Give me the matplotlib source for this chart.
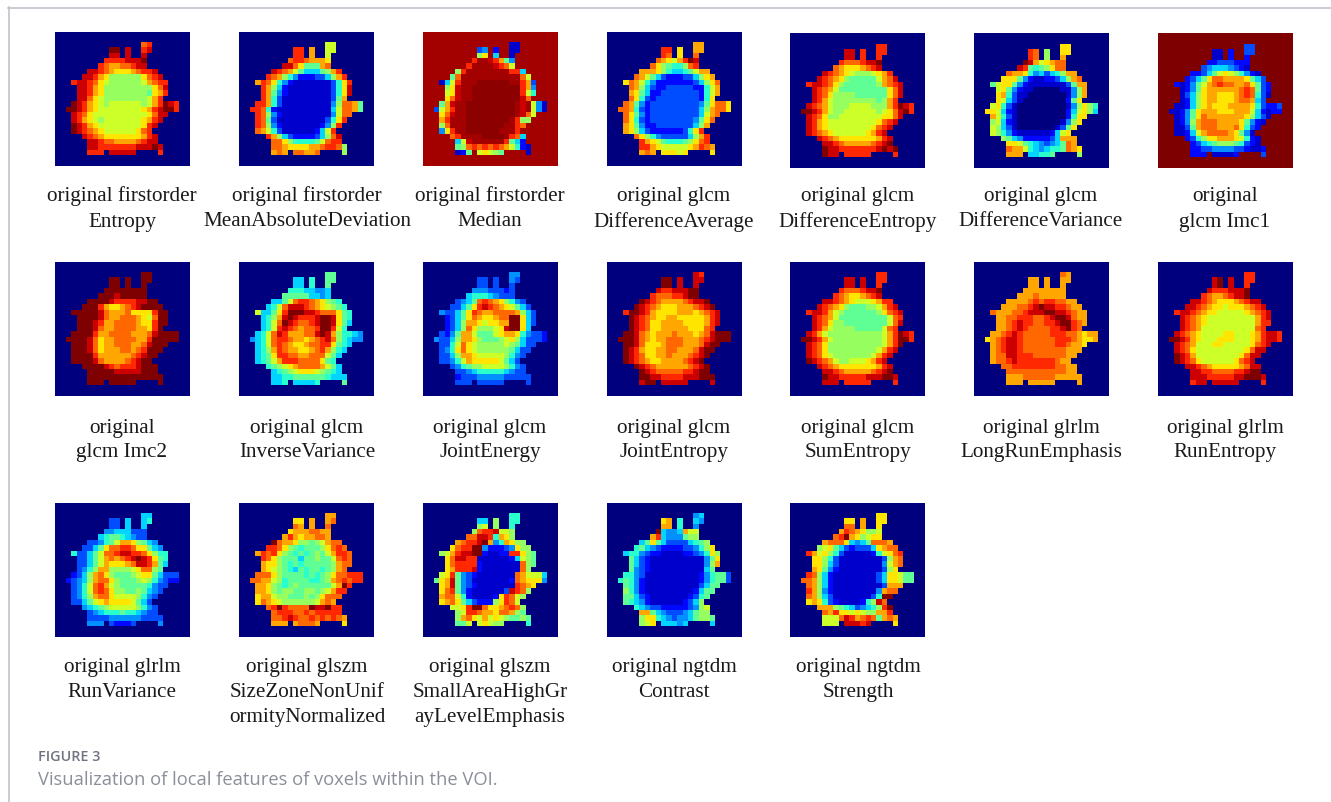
import numpy as np
import matplotlib
matplotlib.use("Agg")
import matplotlib.pyplot as plt
from matplotlib.lines import Line2D

W, H = 1331, 803

# Occupied cells of the 25x25 VOI grid (first row = 2, first column = 2)
OUTLINE = [
    "..............XX.....",
    "........XX.X..XX.....",
    "........XX.X..X......",
    ".......XXXXXXXX......",
    "......XXXXXXXXX......",
    "....XXXXXXXXXXXXX....",
    "...XXXXXXXXXXXXXXX...",
    ".XXXXXXXXXXXXXXXXXX..",
    "..XXXXXXXXXXXXXXXXX..",
    "..XXXXXXXXXXXXXXXXX..",
    "..XXXXXXXXXXXXXXXX...",
    ".XXXXXXXXXXXXXXXXXXXX",
    "XXXXXXXXXXXXXXXXXXXXX",
    ".XXXXXXXXXXXXXXXXXX..",
    ".XXXXXXXXXXXXXXXXX...",
    ".XXXXXXXXXXXXXXXX....",
    ".XXXXXXXXXXXXXXX.....",
    "...XXXXXXXXXXXXXX....",
    "....XXXXXXXXXXXXX....",
    "....XXXXXXXXXXXXXX...",
    "....XXX.XXXXX....X...",
]

# Per-panel values, one string per grid row (hex levels 0-f, g/h between e and f)
entropy = ["cd","ffede","eeee","ddddeeef","dcbbccdee","eedcbaaabcdde",
 "eedba" "88888" "8acde","deedca" "9" "888888" "9bcdd","eedba" "888888888" "ace","eedba" "888888887" "abd",
 "eeca9" "88888888" "9bd","fedba" "989999998" "9bdfed","ffedba9" "9999999" "abdeffd","edca9" "999999999" "acee",
 "edba9" "89999999" "abde","fedba" "99999999" "ade","fedcba" "999999" "acd","edcba" "aaaaa" "abde",
 "eedccbbbbcdee","eedddddddeeefe","dddeeeeed"]
mean_abs_dev = ["99","ddb99","ddb9","cddcbbba","eeca777bc","edcb9755578bd",
 "dcb8642223358bd","bdca64" "2" "111111" "136ad","db852" "11111111" "36ae","db742" "11111111" "36ae",
 "db631" "11111111" "37b","ddb63" "111111111" "48ccb7","ddc62" "1111111111" "59ccb7","dc842" "111111111" "49cc",
 "dc731" "11111111" "36ad","dc842" "1111111" "248d","cb963" "111111" "259d","db853" "22223" "58ce",
 "cca8666679cdd","ccbaaaabbcddc8","bcbccbbc8"]
median = ["11","34211","8a51","dggedb74","dggggedc9","8dggggggggdd5",
 "7cggg" "gggggg" "ggc9","159dgg" "g" "hhhhhh" "ggdb3","8aegg" "hhhhhhhhh" "db4","9aegg" "hhhhhhhhh" "d96",
 "acegg" "hhhhhhhhh" "ec","7begg" "hhhhhhhhh" "geg941","39bdgg" "hhhhhhhhh" "geg941","acegg" "hhhhhhhhh" "gec9",
 "bdggg" "hhhhhhhh" "gd88","8cggg" "hhhhhhh" "ggdc","4adgg" "hhhhhh" "gggd","cdggg" "ghhhh" "gdc5",
 "59eggggggd752","78cdcdcdcb9621","1279a9871"]
diff_average = ["bb","ddabb","dcac","cba9bdfe","ca87668cd","bbba8655679bb",
 "cb975" "322233" "58ab","acb964" "2" "222222" "358ac","cb853" "223333322" "69b","ba752" "233333332" "69b",
 "ca632" "33333333" "26a","cb742" "333333333" "47acca","ccb632" "333333333" "58bcca","ca742" "333333333" "59bc",
 "ca632" "33333333" "47ac","ba742" "2333333" "358b","ba853" "222222" "36ad","ca864" "33333" "58bd",
 "dba9766678acd","ddba99999abdcb","bcbaaa9aa"]
diff_entropy = ["dd","eeddd","eedd","dcccdeef","cbaaabcde","edcba98889abd",
 "edcba" "87777" "79bce","deedca" "8" "777777" "8bcde","edcb9" "777777777" "ace","edca8" "888777777" "ace",
 "edb98" "88888887" "8bd","edcb9" "888999988" "8bdfed","ffedb98" "89999998" "9acefd","edca8" "899999999" "aace",
 "edba9" "99999999" "acde","edba9" "9999999a" "cde","edcba" "999999" "abde","edcba" "aaaaa" "abde",
 "eedcbbbbbcdef","feedddddddefef","feedddddd"]
diff_variance = ["aa","dc8aa","dc8b","feb9abcc","ed7678acc","cbba6453568bb",
 "aaa74" "211223" "58bc","79aa74" "2" "111111" "137bb","9a742" "110000011" "48b","ab631" "100000001" "48b",
 "a9531" "00000000" "27a","9a631" "000000000" "148a86","aa9521" "000000000" "259a85","b9631" "000000000" "26aa",
 "89521" "00000000" "148a","98531" "0000000" "137a","98642" "111111" "259a","87542" "22223" "5bbb",
 "aa976543457cb","cbb96545667cba","bbb556678"]
imc1 = ["33","11233","1122","22333222","345554321","223579a986421",
 "2357a" "ccbbbb" "a753","212479" "b" "cdccbb" "ca732","1247a" "bbbbbbcdc" "732","1358a" "bbaaabcdc" "631",
 "1258a" "bbaaabccb" "53","11258" "abaaabbbb" "a63223","11247a" "bbbaaabbb" "952122","1247a" "cbbbbbbba" "8531",
 "1248b" "cccbbbba" "7421","1137b" "cccbbbc" "a632","11259" "bccccb" "a741","2368a" "abbba" "9621",
 "2356788876321","22334444332112","222111123"]
imc2 = ["ff","fffff","ffff","ffffffff","fffefffff","ffffeddddeeff",
 "fffdb" "aabcde" "ffff","fffffe" "c" "bbbcaa" "aadff","ffffe" "cbbcccba9" "cff","fffed" "bbccccbaa" "dff",
 "fffec" "bbccccbba" "df","ffffd" "bbccccbbb" "ceffff","ffffec" "abbccccbb" "dfffff","fffec" "abbcccbbc" "efff",
 "fffec" "abbbccbc" "dfff","ffffd" "bbbbbbc" "deff","ffffe" "cbbbbc" "deff","ffffe" "dcddd" "efff",
 "fffffeeeeefff","ffffffffffffff","fffffffff"]
inverse_variance = ["77","55677","5567","66655445","777775545","5579cddcba876",
 "569ce" "eedcba" "9876","9557ad" "f" "ffeedc" "cca76","568be" "fedddeffe" "a76","569cf" "edccdeffe" "a75",
 "569de" "dcbccdffd" "96","569ce" "dbbbccefe" "b86654","4569cd" "dcbbabcde" "c86544","569cd" "cbaabccdd" "a765",
 "568bd" "cbbaabcd" "b865","567ad" "dccbbcc" "c975","5679b" "dddccc" "ca76","6789a" "bcccc" "b975",
 "56789aaa98765","55667777776555","556555567"]
joint_energy = ["44","33343","3333","44433323","566654333","3457cdcba8643",
 "3357a" "dedcba" "9753","43357a" "d" "cbbccc" "cb853","2357a" "cbaabccff" "a53","2358b" "ba9aabbff" "a53",
 "2358c" "a8889aeff" "a5","3247b" "b97779abb" "a64332","43358b" "ba877789a" "853332","3369c" "a98888898" "7533",
 "346ac" "a9888888" "7533","3358b" "ba99999" "8643","33469" "baaaaa" "9753","34678" "89999" "8643",
 "3345666665433","23334444433333","333333333"]
joint_entropy = ["ed","ffeee","ffee","eddeeeff","dcccddeff","fedcbbbbcdeef",
 "fedcb" "aaabbb" "cdef","dffedb" "a" "aaabbb" "abcde","fedcb" "aabbaaaaa" "bde","fedca" "abbbbaaaa" "bde",
 "fedca" "abbbbbaaa" "cd","ffecb" "abbbcbbba" "bcefff","fffecb" "abbcccbbb" "cdefff","ffeca" "aabcccbbb" "ceff",
 "fedba" "abbccbbb" "ceff","fedca" "abbcbbb" "cdef","fedcb" "aabbbb" "cdef","fedcb" "bbbbb" "cdef",
 "fedcccccddeff","ffeeddddeeefff","effeeeeee"]
sum_entropy = ["dd","eeedd","eeed","dcccdeef","dcbaabcde","eedcba999abdd",
 "edcba" "877788" "9bde","deedb9" "8" "777777" "8acde","edcb9" "777777777" "9cd","edca8" "877777777" "9ce",
 "edb98" "88877777" "9cd","edb98" "888888888" "9bdfed","ffedb9" "888888888" "9bdffd","edca8" "888888888" "9bdf",
 "edca8" "88888888" "9bde","edca9" "8888888" "9bde","fedcb" "988999" "abde","edcba" "aaaaa" "abde",
 "eedcbbbbbcdef","feedddddeeeffe","eeedddddd"]
long_run = ["cb","bbbbb","bbbb","bbbbbbbb","bbbcbbbbb","bbbbcdcddccbb",
 "bbbcc" "defeed" "dcbb","cbbbcc" "d" "eeeffe" "edcbb","bbccd" "ddccdeffe" "cbb","bbcde" "ddccddeff" "dcb",
 "bbcde" "dccccddef" "dc","bbcde" "dcccccddd" "ccbabb","abcdee" "dccccccdd" "dcbaab","bcdee" "dccccccdd" "cbba",
 "bcdee" "dccccccc" "cbbb","bccee" "dddcccc" "ccbb","bccde" "dddddd" "dcbb","ccddd" "ddddd" "ccbb",
 "cccccccccccbb","bbbccccccbbbbb","bbbbbbbbb"]
run_entropy = ["dd","efedd","efed","edddeeef","dcbbcdeef","eedcbaaabcdee",
 "eedcb" "aa9aaa" "bcde","deedcb" "a" "a99999" "abcde","edcba" "999999999" "bde","edcba" "999999999" "bdd",
 "edcb9" "999999999" "cd","edcba" "9999aa999" "abdeed","ffedba" "999aaa999" "abdeed","edcb9" "99aa99999" "acde",
 "edca9" "99999999" "acee","fedb9" "9999999" "acee","fedca" "999999" "acde","eedcb" "aaaaa" "bcee",
 "eeddccccddeff","eeedddddeefffe","deeeeeeed"]
run_variance = ["55","33556","3355","44555333","567765433","334679bba8754",
 "3357a" "ccddca" "a754","633579" "c" "cdeedd" "ca866","33579" "bcbcdefed" "a76","33579" "baaabceed" "b75",
 "3468b" "b88889acc" "87","2358b" "ca877789a" "a75333","23458b" "cca877789" "864322","3469c" "db9877777" "6433",
 "3469c" "dca88778" "7543","3468b" "cca9999" "8643","33579" "abaaaa" "9753","45678" "99999" "8643",
 "3456667665433","33334444443333","444322234"]
size_zone = ["bb","aabbc","cbbc","abbbccbb","bdbabbccb","fcbba88789bcc",
 "ddca8" "767778" "acdc","bdcda8" "7" "676787" "9bddc","dca87" "775778779" "cdc","baa87" "676777778" "bcc",
 "ba987" "657677678" "bc","ccca8" "777767678" "accddd","ccbb98" "677776678" "bcdcdd","bba87" "678777777" "9bfd",
 "bba87" "88778878" "9bdd","abb98" "8777878" "accc","acba9" "888888" "9bcb","cdfdcccc" "feefdd",
 "cdddccdcddddd","ccdedccdcdcdcb","bbbbcccba"]
small_area = ["66","55866","8986","8cdde998","cceed6ba8","bcddefb46ba88",
 "acddf" "f42223" "4a88","89bdee" "f" "f21122" "dda87","aceed" "d11111125" "987","acddd" "d21111111" "c87",
 "abddd" "e21111111" "c8","9ad74" "321111111" "cb9995","7abe74" "311111112" "cbaaa4","abe74" "321111111" "dcba",
 "acd74" "21111113" "edc8","bcc96" "211112a" "dc98","abca7" "532228" "adc9","99adf" "fcaab" "cdc8",
 "89ddcbbaccb87","8bca9b9a987787","7799a9886"]
contrast = ["45","ab654","bb64","f5445b99","bd5444788","57a7533335678",
 "67543" "222233" "468a","566432" "2" "111122" "346a8","75321" "111111111" "47a","75321" "111111111" "48b",
 "74321" "111111111" "57","66431" "111111111" "246773","676421" "111111111" "246773","76421" "111111111" "3577",
 "86421" "11111111" "2577","77532" "1111111" "2367","76542" "111111" "2358","65433" "22222" "3489",
 "bb75433345788","8aa65434457887","89a555455"]
strength = ["aa","aabaa","ccba","bdcba889","cdfba89aa","bccca5457cccb",
 "89a75" "323335" "abcc","db9a86" "3" "111112" "69acd","aa863" "111111113" "8bc","aa853" "111111114" "9bc",
 "ba742" "111111113" "8a","dc852" "111111113" "5aa977","ccb852" "111111113" "5aa977","cb852" "111111111" "3bbb",
 "db842" "11111111" "4bcc","cb853" "1111111" "36ff","aba63" "211112" "68ec","bbb87" "65345" "68df",
 "cbdaa9a988bbd","999cedbcdc7bcb","999eeedea"]

panels = [entropy, mean_abs_dev, median, diff_average, diff_entropy, diff_variance, imc1,
          imc2, inverse_variance, joint_energy, joint_entropy, sum_entropy, long_run, run_entropy,
          run_variance, size_zone, small_area, contrast, strength]
backgrounds = ["0","0","g","0","0","0","f","0","0","0","0","0","0","0","0","0","0","0","0"]

labels = [
    ["original firstorder", "Entropy"], ["original firstorder", "MeanAbsoluteDeviation"],
    ["original firstorder", "Median"], ["original glcm", "DifferenceAverage"],
    ["original glcm", "DifferenceEntropy"], ["original glcm", "DifferenceVariance"],
    ["original", "glcm Imc1"], ["original", "glcm Imc2"],
    ["original glcm", "InverseVariance"], ["original glcm", "JointEnergy"],
    ["original glcm", "JointEntropy"], ["original glcm", "SumEntropy"],
    ["original glrlm", "LongRunEmphasis"], ["original glrlm", "RunEntropy"],
    ["original glrlm", "RunVariance"], ["original glszm", "SizeZoneNonUnif", "ormityNormalized"],
    ["original glszm", "SmallAreaHighGr", "ayLevelEmphasis"], ["original ngtdm", "Contrast"],
    ["original ngtdm", "Strength"],
]
caption_head = "FIGURE 3"
caption_text = "Visualization of local features of voxels within the VOI."

# Layout in pixels
panel_x = [55, 239, 422.7, 606.7, 790.3, 974.3, 1158]
panel_size = 134.3
row_tops = [[32.5, 32.5, 32.5, 32.5, 34.3, 34.3, 34.3],
            [262.5] * 7, [503.5] * 7]
label_cx = [122, 307, 490, 674, 858, 1041, 1225]
label_base = [[201, 226.5], [432.7, 457.5], [671.7, 696.7, 722.3]]

SPECIAL = {"g": 0.965, "h": 0.985}


def level(c):
    return SPECIAL[c] if c in SPECIAL else int(c, 16) / 15


def build(rows, bg):
    grid = np.full((25, 25), level(bg))
    for r, (mask, vals) in enumerate(zip(OUTLINE, rows)):
        cols = [c for c, m in enumerate(mask) if m == "X"]
        vals = vals.ljust(len(cols), vals[-1])
        for c, v in zip(cols, vals):
            grid[r + 2, c + 2] = level(v)
    return grid


fig = plt.figure(figsize=(W / 100, H / 100), dpi=100, facecolor="white")


def fx(x):
    return x / W


def fy(y):
    return 1 - y / H


for i, (rows, bg, lab) in enumerate(zip(panels, backgrounds, labels)):
    row, col = (i // 7, i % 7)
    x0, y0 = panel_x[col], row_tops[row][col]
    ax = fig.add_axes([fx(x0), fy(y0 + panel_size), panel_size / W, panel_size / H])
    ax.imshow(build(rows, bg), cmap="jet", vmin=0, vmax=1, interpolation="nearest", aspect="auto")
    ax.set_axis_off()
    for line, yb in zip(lab, label_base[row]):
        fig.text(fx(label_cx[col]), fy(yb), line, ha="center", va="baseline",
                 family="Liberation Serif", fontsize=15.2, color="#1a1a1a")

border = "#bcbfc8"
fig.add_artist(Line2D([fx(8), fx(W)], [fy(8.5), fy(8.5)], color=border, lw=1.1))
fig.add_artist(Line2D([fx(8.5), fx(8.5)], [fy(8), fy(H)], color=border, lw=1.1))

fig.text(fx(38), fy(761), caption_head, family="Open Sans", fontweight="semibold",
         fontsize=10.4, color="#6f7380", va="baseline")
fig.text(fx(38), fy(785), caption_text, family="Open Sans", fontsize=13.2,
         color="#8b8f99", va="baseline")

fig.savefig("out.png", dpi=100, facecolor="white")
